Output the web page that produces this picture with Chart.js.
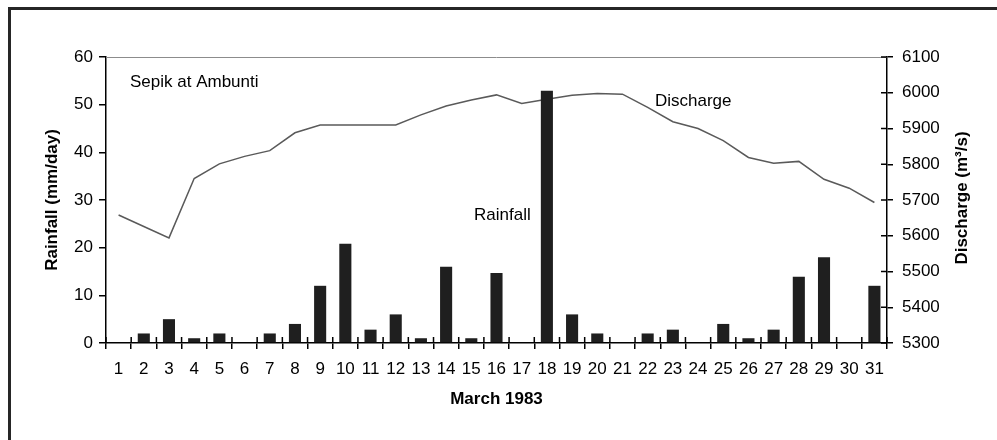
<!DOCTYPE html>
<html>
<head>
<meta charset="utf-8">
<script src="https://cdn.jsdelivr.net/npm/chart.js@4.4.1/dist/chart.umd.min.js"></script>
<style>
  html, body { margin: 0; padding: 0; background: #fff; }
  .wrap { position: relative; width: 997px; height: 440px; overflow: hidden; }
  .frame { position: absolute; left: 8px; top: 7px; width: 1100px; height: 600px;
           border: 3px solid #262626; pointer-events: none; }
</style>
</head>
<body>
<div class="wrap">
  <canvas id="chart" width="997" height="440"></canvas>
  <div class="frame"></div>
</div>
<script>
// March 1983, Sepik at Ambunti
const days = ['1','2','3','4','5','6','7','8','9','10','11','12','13','14','15','16',
              '17','18','19','20','21','22','23','24','25','26','27','28','29','30','31'];
const rainfall = [0, 2, 5, 1, 2, 0, 2, 4, 12, 20.8, 2.8, 6, 1, 16, 1, 14.7,
                  0, 52.9, 6, 2, 0, 2, 2.8, 0, 4, 1, 2.8, 13.9, 18, 0, 12]; // mm/day
const discharge = [5658, 5626, 5594, 5760, 5801, 5822, 5838, 5888, 5910, 5910, 5910, 5910, 5938, 5963, 5980, 5994,
                   5970, 5982, 5993, 5998, 5996, 5959, 5919, 5900, 5866, 5819, 5803, 5808, 5758, 5733, 5693]; // m3/s
const rainTicks = [0, 60, 10];       // min, max, step
const dischargeTicks = [5300, 6100, 100];

const FONT = "'Liberation Sans', Arial, sans-serif";
Chart.defaults.font.family = FONT;
Chart.defaults.color = '#000';

// gray top edge of the plot, inner halves of the crossing ticks, right title, in-plot labels
const extras = {
  id: 'extras',
  afterDraw(chart) {
    const { ctx, chartArea: a, scales } = chart;
    ctx.save();
    ctx.strokeStyle = '#8c8c8c';
    ctx.lineWidth = 1;
    ctx.beginPath();
    ctx.moveTo(a.left, a.top + 0.5);
    ctx.lineTo(a.right, a.top + 0.5);
    ctx.stroke();

    ctx.strokeStyle = '#000';
    ctx.lineWidth = 1.5;
    ctx.beginPath();
    for (let i = 0; i <= days.length; i++) {
      const px = scales.x.getPixelForValue(i - 0.5);
      ctx.moveTo(px, a.bottom);
      ctx.lineTo(px, a.bottom - 6);
    }
    scales.y2.ticks.forEach(t => {
      const py = scales.y2.getPixelForValue(t.value);
      ctx.moveTo(a.right, py);
      ctx.lineTo(a.right - 6, py);
    });
    ctx.stroke();

    ctx.fillStyle = '#000';
    ctx.font = '17px ' + FONT;
    ctx.textBaseline = 'middle';
    ctx.textAlign = 'left';
    ctx.fillText('Sepik at Ambunti', a.left + 24, a.top + 25);
    ctx.fillText('Discharge', a.left + 549, a.top + 44);
    ctx.fillText('Rainfall', a.left + 368, a.top + 158);

    // right axis title reads bottom-to-top like the left one
    ctx.translate(962, (a.top + a.bottom) / 2 - 2);
    ctx.rotate(-Math.PI / 2);
    ctx.textAlign = 'center';
    ctx.font = 'bold 17px ' + FONT;
    ctx.fillText('Discharge (m³/s)', 0, 0);
    ctx.restore();
  }
};

new Chart(document.getElementById('chart'), {
  type: 'bar',
  data: {
    labels: days,
    datasets: [
      {
        type: 'bar',
        label: 'Rainfall',
        data: rainfall,
        yAxisID: 'y',
        backgroundColor: '#1f1f1f',
        borderWidth: 0,
        barPercentage: 0.48,
        categoryPercentage: 1,
        order: 1
      },
      {
        type: 'line',
        label: 'Discharge',
        data: discharge,
        yAxisID: 'y2',
        borderColor: '#5a5a5a',
        borderWidth: 1.5,
        pointRadius: 0,
        tension: 0,
        fill: false,
        order: 2
      }
    ]
  },
  options: {
    responsive: false,
    animation: false,
    layout: { padding: { top: 57, left: 0, right: 0, bottom: 0 } },
    plugins: { legend: { display: false }, tooltip: { enabled: false } },
    scales: {
      x: {
        grid: { display: true, drawOnChartArea: false, offset: true, color: '#000', lineWidth: 1.5, tickLength: 6 },
        border: { display: true, color: '#000', width: 1.5 },
        ticks: { color: '#000', font: { size: 17 }, padding: 10, maxRotation: 0, autoSkip: false },
        title: { display: true, text: 'March 1983', color: '#000',
                 font: { size: 17, weight: 'bold' }, padding: { top: 0, bottom: 30 } },
        afterFit(s) { s.height = 97; }
      },
      y: {
        position: 'left',
        min: rainTicks[0], max: rainTicks[1],
        grid: { display: true, drawOnChartArea: false, color: '#000', lineWidth: 1.5, tickLength: 7 },
        border: { display: true, color: '#000', width: 1.5 },
        ticks: { stepSize: rainTicks[2], color: '#000', font: { size: 17 }, padding: 6 },
        title: { display: true, text: 'Rainfall (mm/day)', color: '#000',
                 font: { size: 17, weight: 'bold' }, padding: { top: 42, bottom: 0 } },
        afterFit(s) { s.width = 106; }
      },
      y2: {
        position: 'right',
        min: dischargeTicks[0], max: dischargeTicks[1],
        grid: { display: true, drawOnChartArea: false, color: '#000', lineWidth: 1.5, tickLength: 6 },
        border: { display: true, color: '#000', width: 1.5 },
        ticks: { stepSize: dischargeTicks[2], color: '#000', font: { size: 17 }, padding: 9,
                 callback: v => String(v) },
        title: { display: false },
        afterFit(s) { s.width = 110; }
      }
    }
  },
  plugins: [extras]
});
</script>
</body>
</html>
